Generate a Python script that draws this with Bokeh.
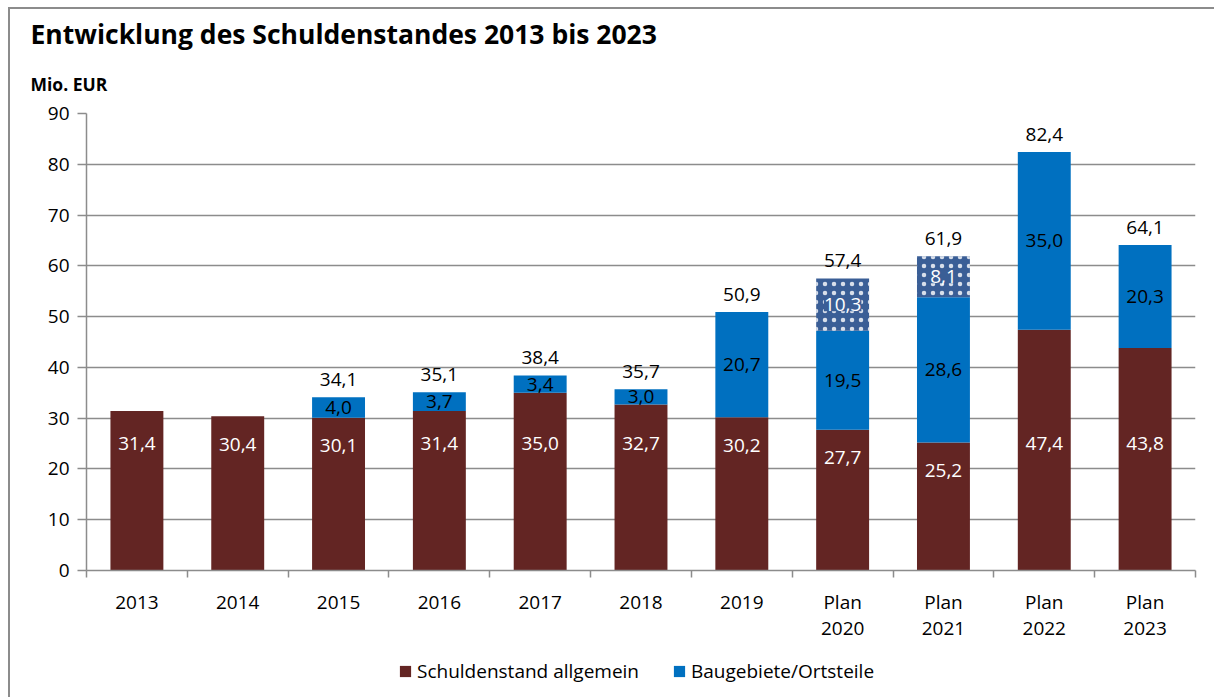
from bokeh.plotting import figure
from bokeh.layouts import column
from bokeh.models import (ColumnDataSource, FixedTicker, Legend, LegendItem, Title,
                          LinearAxis, Grid)
from bokeh.core.properties import value
from bokeh.embed import file_html
from bokeh.resources import INLINE

categories = ["2013", "2014", "2015", "2016", "2017", "2018", "2019",
              "Plan\n2020", "Plan\n2021", "Plan\n2022", "Plan\n2023"]
allgemein = [31.4, 30.4, 30.1, 31.4, 35.0, 32.7, 30.2, 27.7, 25.2, 47.4, 43.8]
baugebiete = [0.0, 0.0, 4.0, 3.7, 3.4, 3.0, 20.7, 19.5, 28.6, 35.0, 20.3]
baugebiete_geplant = [0.0, 0.0, 0.0, 0.0, 0.0, 0.0, 0.0, 10.3, 8.1, 0.0, 0.0]
totals = [None, None, 34.1, 35.1, 38.4, 35.7, 50.9, 57.4, 61.9, 82.4, 64.1]
y_ticks = [0, 10, 20, 30, 40, 50, 60, 70, 80, 90]

FONT = "Open Sans"
RED = "#632523"
BLUE = "#0070C0"
NAVY = "#3A5E96"
GRID = "#8C8C8C"


def fmt(v):
    return f"{v:.1f}".replace(".", ",")


n = len(categories)
xs = [i + 0.5 for i in range(n)]
b1 = allgemein
b2 = [a + b for a, b in zip(allgemein, baugebiete)]
b3 = [a + b for a, b in zip(b2, baugebiete_geplant)]

src = ColumnDataSource(dict(x=xs, a0=[0] * n, a1=b1, a2=b2, a3=b3))

p = figure(width=1204, height=634, x_range=(0, n), y_range=(0, 90),
           output_backend="svg", toolbar_location=None,
           min_border_left=76, min_border_right=19, min_border_top=104,
           min_border_bottom=70, x_axis_location=None, y_axis_location=None)
p.outline_line_color = None
p.background_fill_color = "white"
p.border_fill_color = "white"
p.xgrid.grid_line_color = None
p.ygrid.grid_line_color = None

# titles
p.title = Title(text="Entwicklung des Schuldenstandes 2013 bis 2023", align="left",
                offset=-56, standoff=0, text_font=FONT, text_font_size="26.5px",
                text_font_style="bold", text_color="black")
p.add_layout(Title(text="Mio. EUR", align="left", offset=-56, standoff=36,
                   text_font=FONT, text_font_size="17.5px", text_font_style="bold",
                   text_color="black"), "above")

# axes
yax = LinearAxis(ticker=FixedTicker(ticks=y_ticks))
yax.axis_line_color = GRID
yax.axis_line_width = 1.5
yax.major_tick_line_color = GRID
yax.major_tick_line_width = 1.5
yax.major_tick_out = 9
yax.major_tick_in = 0
yax.minor_tick_line_color = None
yax.major_label_text_font = FONT
yax.major_label_text_font_size = "19px"
yax.major_label_text_color = "black"
yax.major_label_standoff = 8
p.add_layout(yax, "left")

xax = LinearAxis(ticker=FixedTicker(ticks=xs, minor_ticks=list(range(n + 1))))
xax.major_label_overrides = {x: c for x, c in zip(xs, categories)}
xax.axis_line_color = GRID
xax.axis_line_width = 1.5
xax.major_tick_line_color = None
xax.minor_tick_line_color = GRID
xax.minor_tick_line_width = 1.5
xax.minor_tick_out = 7
xax.minor_tick_in = 0
xax.major_label_text_font = FONT
xax.major_label_text_font_size = "19px"
xax.major_label_text_color = "black"
xax.major_label_text_line_height = 1.0
xax.major_label_standoff = 11
p.add_layout(xax, "below")

p.add_layout(Grid(dimension=1, ticker=yax.ticker, grid_line_color=GRID,
                  grid_line_width=1.5))

W = 0.525
r1 = p.vbar(x="x", bottom="a0", top="a1", width=W, source=src,
            fill_color=RED, line_color=None)
r2 = p.vbar(x="x", bottom="a1", top="a2", width=W, source=src,
            fill_color=BLUE, line_color=None)
r3 = p.vbar(x="x", bottom="a2", top="a3", width=W, source=src,
            fill_color=NAVY, line_color=None, hatch_pattern="dot",
            hatch_color="white", hatch_scale=9, hatch_weight=0.3,
            hatch_alpha=0.8)

# labels: Schuldenstand allgemein
lab1 = ColumnDataSource(dict(
    x=xs, y=[min(25.0, v - 5.5) for v in allgemein], t=[fmt(v) for v in allgemein]))
p.text(x="x", y="y", text="t", source=lab1, text_align="center",
       text_baseline="middle", text_color="white", text_font=value(FONT),
       text_font_size="19px")

# labels: Baugebiete
bx, by, bt = [], [], []
for i, v in enumerate(baugebiete):
    if v > 0:
        bx.append(xs[i]); by.append((b1[i] + b2[i]) / 2); bt.append(fmt(v))
p.text(x=bx, y=by, text=bt, text_align="center", text_baseline="middle",
       text_color="black", text_font=value(FONT), text_font_size="19px")

# labels: dotted part
gx, gy, gt = [], [], []
for i, v in enumerate(baugebiete_geplant):
    if v > 0:
        gx.append(xs[i]); gy.append((b2[i] + b3[i]) / 2); gt.append(fmt(v))
p.text(x=gx, y=gy, text=gt, text_align="center", text_baseline="middle",
       text_color="white", text_font=value(FONT), text_font_size="19px",
       background_fill_color=NAVY)

# totals
tx, ty, tt = [], [], []
for i, v in enumerate(totals):
    if v is not None:
        tx.append(xs[i]); ty.append(b3[i]); tt.append(fmt(v))
p.text(x=tx, y=ty, text=tt, text_align="center", text_baseline="middle",
       y_offset=-18, text_color="black", text_font=value(FONT),
       text_font_size="19px")

# legend in a small strip below the chart
lf = figure(width=1204, height=54, x_range=(0, 1), y_range=(0, 1),
            output_backend="svg", toolbar_location=None,
            min_border=0, x_axis_location=None, y_axis_location=None)
lf.outline_line_color = None
lf.background_fill_color = "white"
lf.border_fill_color = "white"
lf.xgrid.visible = False
lf.ygrid.visible = False
lr1 = lf.vbar(x=[0.5], bottom=[0], top=[0], width=0, fill_color=RED, line_color=None)
lr2 = lf.vbar(x=[0.5], bottom=[0], top=[0], width=0, fill_color=BLUE, line_color=None)
legend = Legend(items=[LegendItem(label="Schuldenstand allgemein", renderers=[lr1]),
                       LegendItem(label="Baugebiete/Ortsteile", renderers=[lr2])],
                orientation="horizontal", location=(312, 13),
                border_line_color=None, background_fill_alpha=0,
                label_text_font=FONT, label_text_font_size="19px",
                label_text_color="black", glyph_width=14, glyph_height=14,
                label_standoff=5, spacing=33, margin=0, padding=0)
lf.add_layout(legend, "center")

layout = column(p, lf, spacing=0)
layout.styles = {"border-left": "2px solid #8C8C8C", "border-top": "2px solid #8C8C8C",
                 "margin-left": "8px", "margin-top": "7px"}

open("out.html", "w").write(file_html(layout, INLINE))
